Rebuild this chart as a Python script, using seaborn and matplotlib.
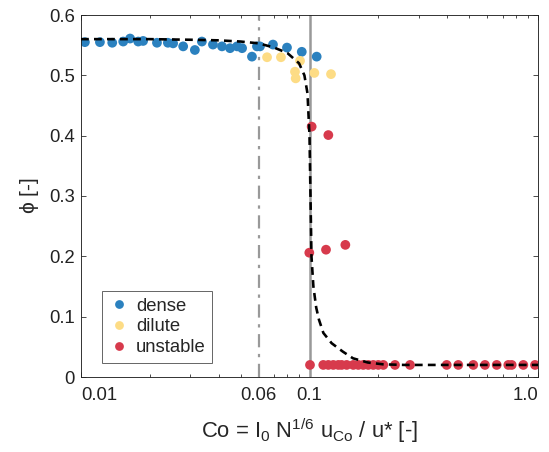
import numpy as np
import pandas as pd
import matplotlib
matplotlib.use("Agg")
import matplotlib.pyplot as plt
import seaborn as sns

# Measured points: dense regime
dense_co = [0.0104, 0.0121, 0.0137, 0.0153, 0.0164, 0.0178, 0.0187, 0.0215, 0.0240,
            0.0253, 0.0280, 0.0315, 0.0338, 0.0378, 0.0414, 0.0449, 0.0482, 0.0507,
            0.0560, 0.0589, 0.0607, 0.0692, 0.0797, 0.0925, 0.1075]
dense_phi = [0.555, 0.555, 0.554, 0.556, 0.561, 0.556, 0.557, 0.554, 0.554,
             0.553, 0.548, 0.542, 0.556, 0.551, 0.548, 0.545, 0.548, 0.545,
             0.531, 0.548, 0.548, 0.551, 0.546, 0.539, 0.531]

# dilute regime
dilute_co = [0.0652, 0.0750, 0.0909, 0.0864, 0.0870, 0.1050, 0.1242]
dilute_phi = [0.530, 0.530, 0.524, 0.506, 0.495, 0.504, 0.502]

# unstable regime
unstable_co = [0.1022, 0.1209, 0.0998, 0.1181, 0.1435,
               0.1005, 0.1149, 0.1209, 0.1271, 0.1337, 0.1383, 0.1455, 0.1555, 0.1635,
               0.1719, 0.1808, 0.1902, 0.2000, 0.2104, 0.2367, 0.2754, 0.3986, 0.4479,
               0.5210, 0.5861, 0.6597, 0.7413, 0.7672, 0.8625, 0.9703]
unstable_phi = [0.415, 0.401, 0.206, 0.211, 0.219] + [0.02] * 25

# fitted curve
curve_co = [0.01, 0.02, 0.03, 0.04, 0.05, 0.06, 0.07, 0.08, 0.09, 0.095, 0.098, 0.1,
            0.101, 0.102, 0.104, 0.107, 0.11, 0.115, 0.125, 0.14, 0.155, 0.18, 0.21,
            0.26, 1.0]
curve_phi = [0.560, 0.560, 0.559, 0.558, 0.556, 0.553, 0.546, 0.537, 0.520, 0.500, 0.470,
             0.400, 0.300, 0.200, 0.150, 0.115, 0.095, 0.073, 0.056, 0.042, 0.031, 0.024,
             0.021, 0.020, 0.020]

df = pd.DataFrame({
    "Co": dense_co + dilute_co + unstable_co,
    "phi": dense_phi + dilute_phi + unstable_phi,
    "regime": ["dense"] * len(dense_co) + ["dilute"] * len(dilute_co) + ["unstable"] * len(unstable_co),
})
curve = pd.DataFrame({"Co": curve_co, "phi": curve_phi})

sns.set_style("ticks")
plt.rcParams["font.family"] = ["Liberation Sans", "DejaVu Sans"]
plt.rcParams["mathtext.default"] = "regular"
plt.rcParams["mathtext.fontset"] = "custom"
plt.rcParams["mathtext.rm"] = "Liberation Sans"
plt.rcParams["mathtext.it"] = "Liberation Sans:italic"

fig = plt.figure(figsize=(549 / 72, 452 / 72), dpi=72)
ax = fig.add_axes([81 / 549, 1 - 377 / 452, 457 / 549, 362 / 452])

# reference lines
ax.axvline(0.06, color="#999999", lw=2.2, ls=(0, (6, 3, 1.5, 3)), zorder=1)
ax.axvline(0.1, color="#999999", lw=2.5, zorder=1)

palette = {"dense": "#2b81bf", "dilute": "#fddc85", "unstable": "#d73a4c"}
sns.scatterplot(data=df, x="Co", y="phi", hue="regime", palette=palette,
                hue_order=["dense", "dilute", "unstable"], s=95, linewidth=0,
                edgecolor="none", ax=ax, zorder=2)

sns.lineplot(data=curve, x="Co", y="phi", color="black", lw=2.6, sort=False,
             estimator=None, ax=ax, zorder=3, dashes=False)
ax.lines[-1].set_dashes([3, 2])

ax.set_xscale("log")
ax.set_xlim(0.01, 1.0)
ax.set_ylim(0, 0.6)
ax.set_xticks([0.01, 0.06, 0.1, 1.0])
ax.set_xticklabels(["0.01", "0.06", "0.1", "1.0"])
ax.set_yticks([0, 0.1, 0.2, 0.3, 0.4, 0.5, 0.6])
ax.set_yticklabels(["0", "0.1", "0.2", "0.3", "0.4", "0.5", "0.6"])
labels = ax.get_xticklabels()
labels[0].set_horizontalalignment("left")
labels[-1].set_horizontalalignment("right")

ax.tick_params(which="both", direction="in", top=True, right=True, labelsize=18.5,
               colors="#222222", width=0.8)
ax.tick_params(which="major", length=5)
ax.tick_params(which="minor", length=3)
ax.tick_params(axis="x", which="major", pad=10)
ax.tick_params(axis="y", which="major", pad=6)
for sp in ax.spines.values():
    sp.set_visible(True)
    sp.set_linewidth(0.9)
    sp.set_color("#222222")

ax.set_xlabel("Co = I$_0$ N$^{1/6}$ u$_{Co}$ / u* [-]", fontsize=22, labelpad=12)
ax.set_ylabel(r"$\phi$ [-]", fontsize=21, labelpad=8)

leg = ax.legend(loc="lower left", bbox_to_anchor=(0.045, 0.04), borderaxespad=0,
                fontsize=18.5, frameon=True, fancybox=False, handletextpad=0.3,
                borderpad=0.35, labelspacing=0.2, handlelength=1.2, markerscale=0.9)
leg.get_frame().set_edgecolor("#444444")
leg.get_frame().set_linewidth(1.0)

fig.savefig("out.png", dpi=72)
